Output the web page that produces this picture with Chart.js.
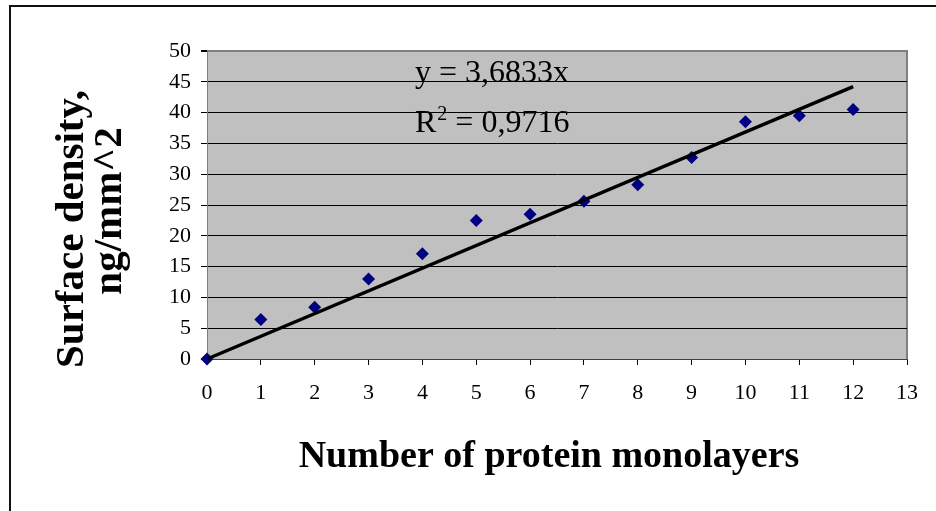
<!DOCTYPE html>
<html>
<head>
<meta charset="utf-8">
<script src="https://cdn.jsdelivr.net/npm/chart.js@4.4.0/dist/chart.umd.min.js"></script>
<style>
  html, body { margin: 0; padding: 0; background: #fff; }
  canvas { display: block; }
</style>
</head>
<body>
<canvas id="my-chart" width="936" height="511"></canvas>
<script>
const layers = [0, 1, 2, 3, 4, 5, 6, 7, 8, 9, 10, 11, 12];
const density = [0, 6.4, 8.4, 13.0, 17.1, 22.5, 23.5, 25.6, 28.3, 32.7, 38.5, 39.5, 40.5];
const slope = 3.6833;
const trendX = [0, 12];
const xTitle = "Number of protein monolayers";
const yTitle = ["Surface density,", "ng/mm^2"];
const eqText = "y = 3,6833x";
const r2Text = " = 0,9716";

const serif = "'Liberation Serif', 'Times New Roman', serif";

const frame = {
  id: 'frame',
  beforeDraw(chart) {
    const {ctx, chartArea: a} = chart;
    ctx.save();
    ctx.fillStyle = '#fff';
    ctx.fillRect(0, 0, chart.width, chart.height);
    // outer border
    ctx.strokeStyle = '#111';
    ctx.lineWidth = 2;
    ctx.beginPath();
    ctx.moveTo(10, 511);
    ctx.lineTo(10, 6);
    ctx.lineTo(936, 6);
    ctx.stroke();
    // plot background
    ctx.fillStyle = '#c0c0c0';
    ctx.fillRect(a.left, a.top, a.right - a.left, a.bottom - a.top);
    ctx.strokeStyle = '#808080';
    ctx.lineWidth = 2;
    ctx.beginPath();
    ctx.moveTo(a.left, a.top);
    ctx.lineTo(a.right, a.top);
    ctx.lineTo(a.right, a.bottom);
    ctx.stroke();
    ctx.restore();
  },
  afterDraw(chart) {
    const {ctx} = chart;
    ctx.save();
    ctx.fillStyle = '#000';
    // x title
    ctx.font = `bold 38px ${serif}`;
    ctx.textAlign = 'center';
    ctx.textBaseline = 'alphabetic';
    ctx.fillText(xTitle, 549, 467);
    // y title, two lines
    ctx.font = `bold 41px ${serif}`;
    ctx.save();
    ctx.translate(83, 229);
    ctx.rotate(-Math.PI / 2);
    ctx.fillText(yTitle[0], 0, 0);
    ctx.restore();
    ctx.save();
    ctx.translate(121, 211);
    ctx.rotate(-Math.PI / 2);
    ctx.fillText(yTitle[1], 0, 0);
    ctx.restore();
    // trendline equation
    ctx.textAlign = 'left';
    ctx.font = `32px ${serif}`;
    ctx.fillText(eqText, 415, 82);
    ctx.fillText('R', 415, 132);
    let w = ctx.measureText('R').width;
    ctx.font = `20px ${serif}`;
    ctx.fillText('2', 415 + w + 1, 120);
    let w2 = ctx.measureText('2').width;
    ctx.font = `32px ${serif}`;
    ctx.fillText(r2Text, 415 + w + w2 + 1, 132);
    ctx.restore();
  }
};

const ctx = document.getElementById('my-chart').getContext('2d');
new Chart(ctx, {
  type: 'scatter',
  data: {
    datasets: [{
      data: layers.map((x, i) => ({x: x, y: density[i]})),
      pointStyle: 'rectRot',
      pointRadius: 6.5,
      backgroundColor: '#000080',
      borderColor: '#000080',
      borderWidth: 0,
      showLine: false,
      clip: false,
      order: 2
    }, {
      data: trendX.map(x => ({x: x, y: slope * x})),
      showLine: true,
      borderColor: '#000',
      borderWidth: 3.5,
      pointRadius: 0,
      clip: false,
      order: 1
    }]
  },
  plugins: [frame],
  options: {
    responsive: false,
    animation: false,
    devicePixelRatio: 1,
    layout: { padding: { left: 0, right: 29, top: 51, bottom: 0 } },
    plugins: {
      legend: { display: false },
      tooltip: { enabled: false }
    },
    scales: {
      x: {
        type: 'linear',
        min: 0,
        max: 13,
        afterFit: s => { s.height = 152; },
        ticks: {
          stepSize: 1,
          color: '#000',
          padding: 15,
          font: { family: serif, size: 22 }
        },
        grid: {
          drawOnChartArea: false,
          tickLength: 6,
          tickColor: '#000'
        },
        border: { color: '#404040', width: 1 }
      },
      y: {
        min: 0,
        max: 50,
        afterFit: s => { s.width = 207; },
        ticks: {
          stepSize: 5,
          color: '#000',
          padding: 10,
          font: { family: serif, size: 22 }
        },
        grid: {
          color: c => (c.tick && c.tick.value === 50) ? '#808080' : '#000',
          lineWidth: c => (c.tick && c.tick.value === 50) ? 2 : 1,
          tickLength: 6,
          tickColor: '#000'
        },
        border: { color: '#808080', width: 1 }
      }
    }
  }
});
</script>
</body>
</html>
